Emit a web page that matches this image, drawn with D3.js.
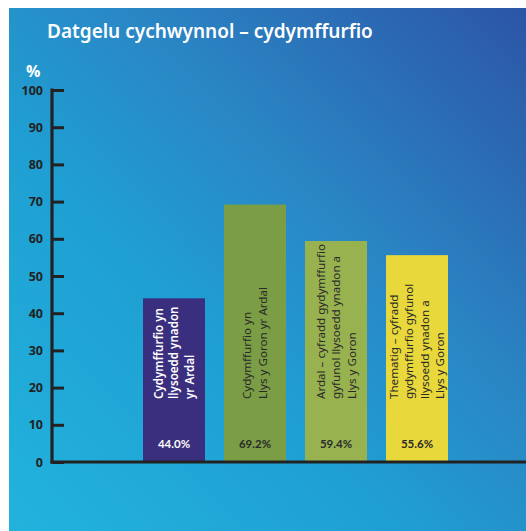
<!DOCTYPE html>
<html>
<head>
<meta charset="utf-8">
<script src="https://cdn.jsdelivr.net/npm/d3@7"></script>
<style>
  html, body { margin: 0; padding: 0; background: #ffffff; }
  svg { display: block; }
</style>
</head>
<body>
<svg id="chart" width="526" height="531"></svg>
<script>
const title = "Datgelu cychwynnol – cydymffurfio";
const categories = ["a", "b", "c", "d"];
const values = [44.0, 69.2, 59.4, 55.6];
const valueLabels = ["44.0%", "69.2%", "59.4%", "55.6%"];
const barLabels = [
  ["Cydymffurfio yn", "llysoedd ynadon", "yr Ardal"],
  ["Cydymffurfio yn", "Llys y Goron yr Ardal"],
  ["Ardal – cyfradd gydymffurfio", "gyfunol llysoedd ynadon a", "Llys y Goron"],
  ["Thematig – cyfradd", "gydymffurfio gyfunol", "llysoedd ynadon a", "Llys y Goron"]
];
const barColors = ["#3a2e7e", "#7a9d45", "#98b250", "#e9d83b"];
const textColors = ["#ffffff", "#2a2a2a", "#2a2a2a", "#2a2a2a"];
const yTicks = [0, 10, 20, 30, 40, 50, 60, 70, 80, 90, 100];

const svg = d3.select("#chart");
const defs = svg.append("defs");
const grad = defs.append("linearGradient").attr("id", "bg")
  .attr("x1", "0").attr("y1", "1").attr("x2", "1").attr("y2", "0");
[["0", "#22b3dd"], ["0.38", "#1f9fd3"], ["0.62", "#2a86c4"], ["1", "#2c55a6"]]
  .forEach(([o, c]) => grad.append("stop").attr("offset", o).attr("stop-color", c));

svg.append("rect").attr("x", 9).attr("y", 8).attr("width", 517).attr("height", 523)
  .attr("fill", "url(#bg)");

svg.append("text").attr("x", 47).attr("y", 38).text(title)
  .attr("fill", "#ffffff").attr("font-family", "'Noto Sans', sans-serif")
  .attr("font-weight", 600).attr("font-size", 19);

svg.append("text").attr("x", 26).attr("y", 77).text("%")
  .attr("fill", "#ffffff").attr("font-family", "'Open Sans', sans-serif")
  .attr("font-weight", 700).attr("font-size", 16);

const y = d3.scaleLinear().domain([0, 100]).range([462, 90]);
const x = d3.scaleBand().domain(categories).range([143, 448]).paddingInner(19 / 81).paddingOuter(0);
const bw = x.bandwidth();

const g = svg.append("g");
g.selectAll("rect.bar").data(values).join("rect").attr("class", "bar")
  .attr("x", (d, i) => x(categories[i]))
  .attr("y", d => y(d))
  .attr("width", bw)
  .attr("height", d => y(0) - y(d))
  .attr("fill", (d, i) => barColors[i]);

g.selectAll("text.val").data(valueLabels).join("text").attr("class", "val")
  .attr("x", (d, i) => x(categories[i]) + bw / 2)
  .attr("y", 448)
  .attr("text-anchor", "middle")
  .attr("fill", (d, i) => textColors[i])
  .attr("font-family", "Lato, sans-serif").attr("font-weight", 700).attr("font-size", 11.5)
  .text(d => d);

const lineH = 15.5;
barLabels.forEach((lines, i) => {
  const cx = x(categories[i]) + bw / 2;
  const n = lines.length;
  const t = g.append("text")
    .attr("transform", `translate(${cx},399) rotate(-90)`)
    .attr("fill", textColors[i])
    .attr("font-family", "'Noto Sans', sans-serif")
    .attr("font-weight", i === 0 ? 600 : 400)
    .attr("font-size", 11.6);
  lines.forEach((ln, j) => {
    t.append("tspan").attr("x", 0)
      .attr("y", (j - (n - 1) / 2) * lineH + 4)
      .text(ln);
  });
});

const yAxis = d3.axisRight(y).tickValues(yTicks).tickSize(12).tickFormat("");
const ag = svg.append("g").attr("transform", "translate(52,0)").call(yAxis);
ag.select(".domain").remove();
ag.selectAll(".tick line").attr("stroke", "#222").attr("stroke-width", 3);
svg.append("line").attr("x1", 52).attr("x2", 52).attr("y1", 88.5).attr("y2", 463.5)
  .attr("stroke", "#222").attr("stroke-width", 3.2);
svg.append("line").attr("x1", 50.5).attr("x2", 526).attr("y1", 462).attr("y2", 462)
  .attr("stroke", "#222").attr("stroke-width", 3.2);

svg.selectAll("text.tick").data(yTicks).join("text").attr("class", "tick")
  .attr("x", 43).attr("y", d => y(d) + 4.5)
  .attr("text-anchor", "end")
  .attr("fill", "#222")
  .attr("font-family", "'Open Sans', sans-serif").attr("font-weight", 700).attr("font-size", 12.5)
  .text(d => d);
</script>
</body>
</html>
